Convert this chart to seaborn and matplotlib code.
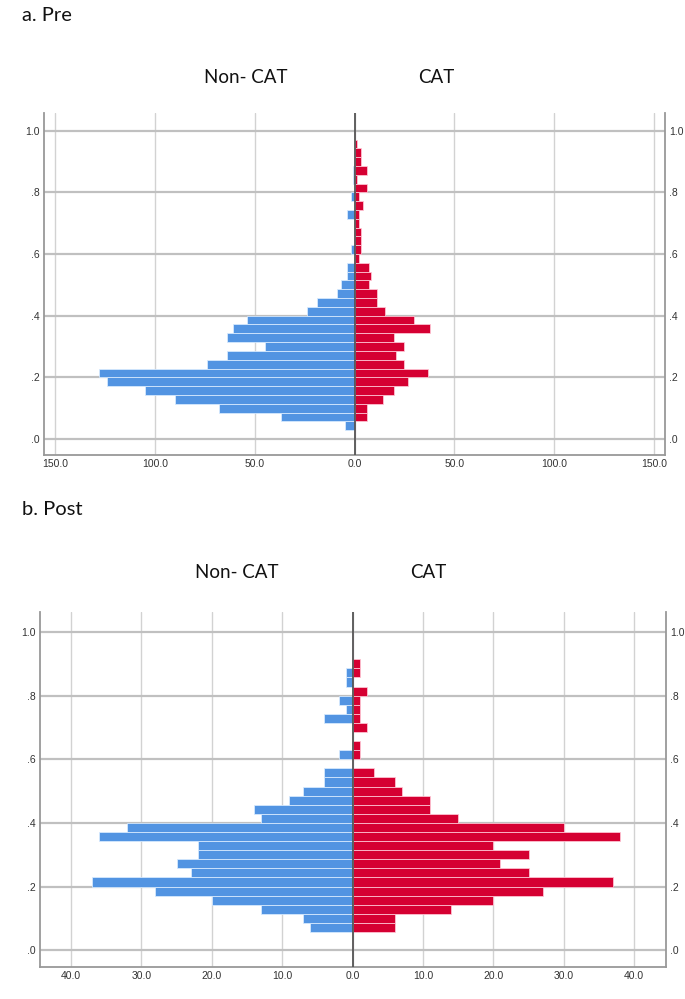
import numpy as np
import pandas as pd
import matplotlib
matplotlib.use("Agg")
import matplotlib.pyplot as plt
import seaborn as sns

# 35 bins from 0 to 1, counts listed from the lowest bin upwards
n_bins = 35
bin_edges = [k / n_bins for k in range(n_bins + 1)]

pre_noncat = [0, 5, 37, 68, 90, 105, 124, 128, 74, 64, 45, 64, 61, 54, 24, 19, 9, 7,
              4, 4, 0, 2, 0, 0, 0, 4, 0, 2, 0, 1, 1, 0, 0, 0, 0]
pre_cat = [0, 0, 6, 6, 14, 20, 27, 37, 25, 21, 25, 20, 38, 30, 15, 11, 11, 7,
           8, 7, 2, 3, 3, 3, 2, 2, 4, 2, 6, 1, 6, 3, 3, 1, 0]

post_noncat = [0, 0, 6, 7, 13, 20, 28, 37, 23, 25, 22, 22, 36, 32, 13, 14, 9, 7,
               4, 4, 0, 2, 0, 0, 0, 4, 1, 2, 0, 1, 1, 0, 0, 0, 0]
post_cat = [0, 0, 6, 6, 14, 20, 27, 37, 25, 21, 25, 20, 38, 30, 15, 11, 11, 7,
            6, 3, 0, 1, 1, 0, 2, 1, 1, 1, 2, 0, 1, 1, 0, 0, 0]

y_ticks = [0.0, 0.2, 0.4, 0.6, 0.8, 1.0]
y_labels = [".0", ".2", ".4", ".6", ".8", "1.0"]
pre_xticks = [-150, -100, -50, 0, 50, 100, 150]
post_xticks = [-40, -30, -20, -10, 0, 10, 20, 30, 40]

blue = "#5294e2"
red = "#d50032"

sns.set_theme(style="white")
plt.rcParams["font.family"] = ["Liberation Sans", "DejaVu Sans"]

fig = plt.figure(figsize=(6.85, 9.99), dpi=100)
ax1 = fig.add_axes([0.0642, 0.5445, 0.9062, 0.3421])
ax2 = fig.add_axes([0.0588, 0.0317, 0.9130, 0.3557])

centers = [(bin_edges[i] + bin_edges[i + 1]) / 2 for i in range(n_bins)]


def pyramid(ax, noncat, cat, xticks, xlim, ylim):
    df = pd.DataFrame({"y": centers, "noncat": noncat, "cat": cat})
    df["left"] = -df["noncat"]
    sns.histplot(data=df, y="y", weights="left", bins=bin_edges, ax=ax,
                 color=blue, alpha=1, edgecolor=(0.85, 0.92, 1, 0.8), linewidth=0.7)
    sns.histplot(data=df, y="y", weights="cat", bins=bin_edges, ax=ax,
                 color=red, alpha=1, edgecolor=(1, 0.78, 0.84, 0.8), linewidth=0.7)
    ax.set_xlim(*xlim)
    ax.set_ylim(*ylim)
    ax.set_xlabel("")
    ax.set_ylabel("")
    ax.set_xticks(xticks)
    ax.set_xticklabels([f"{abs(v):.1f}" for v in xticks])
    ax.set_yticks(y_ticks)
    ax.set_yticklabels(y_labels)
    ax.set_axisbelow(True)
    ax.xaxis.grid(True, color="#d2d2d2", linewidth=1.0)
    ax.yaxis.grid(True, color="#c0c0c0", linewidth=1.6)
    ax.axvline(0, color="#555555", linewidth=1.3, zorder=4)
    ax.tick_params(axis="both", length=0, labelsize=7.5, colors="#333333", pad=3)
    ax.tick_params(axis="y", labelright=True)
    for side in ["left", "bottom", "right"]:
        ax.spines[side].set_visible(True)
        ax.spines[side].set_color("#999999")
        ax.spines[side].set_linewidth(1.3)
    ax.spines["top"].set_visible(False)


pyramid(ax1, pre_noncat, pre_cat, pre_xticks, (-155.5, 155.3), (-0.052, 1.0565))
pyramid(ax2, post_noncat, post_cat, post_xticks, (-44.36, 44.46), (-0.054, 1.063))

title_font = dict(family=["Lato", "DejaVu Sans"], fontsize=13.5, color="#111111")
fig.text(22 / 685, 1 - 21 / 999, "a. Pre", ha="left", va="baseline",
         family=["Lato", "DejaVu Sans"], fontsize=14.5, color="#111111")
fig.text(246 / 685, 1 - 83 / 999, "Non- CAT", ha="center", va="baseline", **title_font)
fig.text(436 / 685, 1 - 83 / 999, "CAT", ha="center", va="baseline", **title_font)
fig.text(22 / 685, 1 - 515 / 999, "b. Post", ha="left", va="baseline",
         family=["Lato", "DejaVu Sans"], fontsize=14.5, color="#111111")
fig.text(237 / 685, 1 - 578 / 999, "Non- CAT", ha="center", va="baseline", **title_font)
fig.text(428 / 685, 1 - 578 / 999, "CAT", ha="center", va="baseline", **title_font)

fig.savefig("out.png", dpi=100)
